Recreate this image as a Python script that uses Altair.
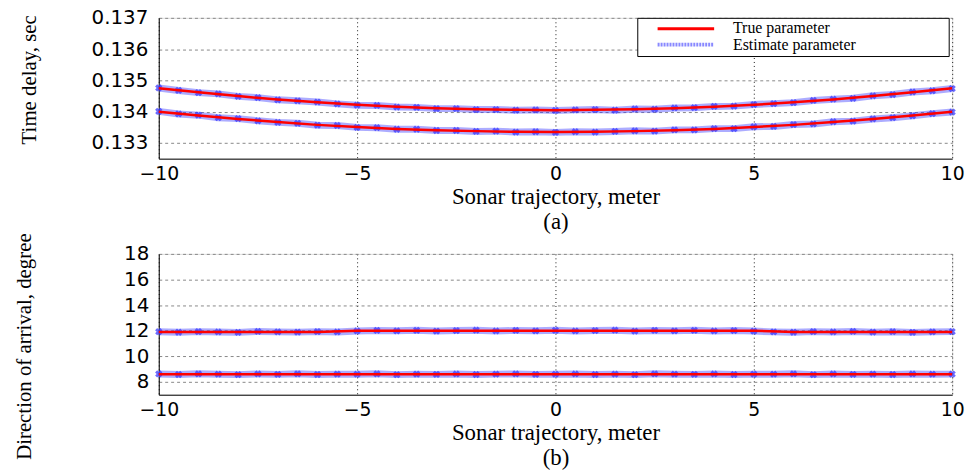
import altair as alt
import pandas as pd

# ---------------- data ----------------
x_true = [-10, -9, -8, -7, -6, -5, -4, -3, -2, -1, 0, 1, 2, 3, 4, 5, 6, 7, 8, 9, 10]
delay_true_1 = [0.13475, 0.13462, 0.13450, 0.13439, 0.13430, 0.13422, 0.13416, 0.13411, 0.13408, 0.13406, 0.13405,
                0.13406, 0.13408, 0.13411, 0.13416, 0.13422, 0.13430, 0.13439, 0.13450, 0.13462, 0.13475]
delay_true_2 = [0.13400, 0.13388, 0.13377, 0.13367, 0.13358, 0.13351, 0.13345, 0.13341, 0.13338, 0.13336, 0.13335,
                0.13336, 0.13338, 0.13341, 0.13345, 0.13351, 0.13358, 0.13367, 0.13377, 0.13388, 0.13400]
doa_true_1 = [11.9, 11.9, 11.9, 11.9, 11.9, 12.0, 12.0, 12.0, 12.0, 12.0, 12.0,
              12.0, 12.0, 12.0, 12.0, 12.0, 11.9, 11.9, 11.9, 11.9, 11.9]
doa_true_2 = [8.6] * 21

x_est = [-10, -9.5, -9, -8.5, -8, -7.5, -7, -6.5, -6, -5.5, -5, -4.5, -4, -3.5, -3, -2.5, -2, -1.5, -1, -0.5, 0,
         0.5, 1, 1.5, 2, 2.5, 3, 3.5, 4, 4.5, 5, 5.5, 6, 6.5, 7, 7.5, 8, 8.5, 9, 9.5, 10]
delay_est_1 = [0.13476, 0.13468, 0.13461, 0.13457, 0.13449, 0.13445, 0.13438, 0.13435, 0.13431, 0.13425, 0.13421,
               0.13420, 0.13415, 0.13414, 0.13410, 0.13410, 0.13407, 0.13407, 0.13405, 0.13406, 0.13404,
               0.13406, 0.13407, 0.13405, 0.13409, 0.13408, 0.13412, 0.13413, 0.13417, 0.13418, 0.13423,
               0.13426, 0.13429, 0.13436, 0.13440, 0.13443, 0.13451, 0.13455, 0.13463, 0.13467, 0.13474]
delay_est_2 = [0.13401, 0.13393, 0.13389, 0.13381, 0.13378, 0.13371, 0.13366, 0.13363, 0.13357, 0.13356, 0.13350,
               0.13349, 0.13344, 0.13344, 0.13340, 0.13340, 0.13337, 0.13338, 0.13335, 0.13336, 0.13334,
               0.13336, 0.13335, 0.13337, 0.13339, 0.13338, 0.13342, 0.13342, 0.13346, 0.13346, 0.13352,
               0.13353, 0.13359, 0.13361, 0.13368, 0.13370, 0.13377, 0.13381, 0.13387, 0.13394, 0.13399]
doa_est_1 = [11.92, 11.88, 11.93, 11.90, 11.87, 11.94, 11.91, 11.89, 11.93, 11.90, 11.98,
             12.02, 11.99, 12.03, 11.97, 12.01, 12.04, 11.98, 12.02, 11.99, 12.03,
             11.98, 12.01, 12.04, 11.97, 12.02, 11.99, 12.03, 11.98, 12.01, 11.97,
             11.91, 11.88, 11.93, 11.90, 11.94, 11.89, 11.92, 11.87, 11.91, 11.93]
doa_est_2 = [8.62, 8.58, 8.63, 8.60, 8.57, 8.62, 8.59, 8.63, 8.58, 8.61, 8.60,
             8.63, 8.57, 8.61, 8.59, 8.62, 8.58, 8.61, 8.63, 8.59, 8.60,
             8.62, 8.58, 8.61, 8.57, 8.63, 8.60, 8.59, 8.62, 8.58, 8.61,
             8.60, 8.63, 8.57, 8.62, 8.59, 8.61, 8.58, 8.62, 8.60, 8.61]

x_ticks = [-10, -5, 0, 5, 10]
delay_ticks = [0.133, 0.134, 0.135, 0.136, 0.137]
doa_ticks = [8, 10, 12, 14, 16, 18]
legend_labels = ["True parameter", "Estimate parameter"]

RED = "#ff0000"
BLUE = "#3a3aff"
SERIF = "Liberation Serif"
SANS = "DejaVu Sans"


def frame(xs, ys_list):
    rows = []
    for i, ys in enumerate(ys_list):
        for xv, yv in zip(xs, ys):
            rows.append({"x": xv, "y": yv, "curve": i})
    return pd.DataFrame(rows)


def panel(true_df, est_df, ydom, yticks, yfmt, ytitle, ytitlesize, letter, ypad, ytitlepad, ytitley, with_legend):
    xenc = alt.X("x:Q", scale=alt.Scale(domain=[-10, 10], nice=False),
                 axis=alt.Axis(values=x_ticks, title=["Sonar trajectory, meter", letter], format="d",
                               labelFont=SANS, labelFontSize=19, labelColor="black", labelPadding=6,
                               titleFont=SERIF, titleFontSize=23, titleFontWeight="normal",
                               titleColor="black", titlePadding=2, titleLineHeight=25,
                               ticks=False, domainColor="black",
                               gridColor="black", gridDash=[1, 3], gridOpacity=0.9, labelFlush=False))
    yenc = alt.Y("y:Q", scale=alt.Scale(domain=ydom, nice=False, zero=False),
                 axis=alt.Axis(values=yticks, title=ytitle, format=yfmt,
                               labelFont=SANS, labelFontSize=20, labelColor="black", labelPadding=ypad,
                               titleFont=SERIF, titleFontSize=ytitlesize, titleFontWeight="normal",
                               titleColor="black", titlePadding=ytitlepad, titleY=ytitley,
                               ticks=False, domainColor="black",
                               gridColor="#888888", gridDash=[3, 3], labelFlush=False))
    est_line = alt.Chart(est_df).mark_line(color=BLUE, strokeWidth=7, opacity=0.42).encode(
        x=xenc, y=yenc, detail="curve:N")
    est_pts = alt.Chart(est_df).mark_point(shape="cross", angle=45, filled=True, size=55,
                                           color=BLUE, opacity=0.75).encode(x=xenc, y=yenc)
    true_line = alt.Chart(true_df).mark_line(color=RED, strokeWidth=2.5).encode(
        x=xenc, y=yenc, detail="curve:N")
    layers = [est_line, est_pts, true_line]
    if with_legend:
        box = alt.Chart(pd.DataFrame({"k": [0]})).mark_rect(fill="white", stroke="black", strokeWidth=1).encode(
            x=alt.value(483), x2=alt.value(797), y=alt.value(0.5), y2=alt.value(39))
        r1 = alt.Chart(pd.DataFrame({"k": [0]})).mark_rule(color=RED, strokeWidth=3).encode(
            x=alt.value(503), x2=alt.value(560), y=alt.value(11))
        r2 = alt.Chart(pd.DataFrame({"k": [0]})).mark_rule(color=BLUE, strokeWidth=4, opacity=0.6,
                                                            strokeDash=[2, 1]).encode(
            x=alt.value(503), x2=alt.value(560), y=alt.value(27))
        t1 = alt.Chart(pd.DataFrame({"t": [legend_labels[0]]})).mark_text(
            font=SERIF, fontSize=16, align="left", baseline="middle", color="black").encode(
            text="t:N", x=alt.value(579), y=alt.value(10))
        t2 = alt.Chart(pd.DataFrame({"t": [legend_labels[1]]})).mark_text(
            font=SERIF, fontSize=16, align="left", baseline="middle", color="black").encode(
            text="t:N", x=alt.value(579), y=alt.value(27))
        layers += [box, r1, r2, t1, t2]
    return alt.layer(*layers).properties(width=800, height=142)


top = panel(frame(x_true, [delay_true_1, delay_true_2]), frame(x_est, [delay_est_1, delay_est_2]),
            [0.1325, 0.137], delay_ticks, ".3f", "Time delay, sec", 21, "(a)", 11, 52, 62, True)
bottom = panel(frame(x_true, [doa_true_1, doa_true_2]), frame(x_est, [doa_est_1, doa_est_2]),
               [7, 18], doa_ticks, "d", "Direction of arrival, degree", 21, "(b)", 10, 90, 93, False)

chart = alt.vconcat(top, bottom, spacing=96, bounds="flush").properties(
    padding={"left": 5, "top": -3, "right": 5, "bottom": 0}
).configure_view(stroke="#444444", strokeWidth=1).configure_axis(
    titleFont=SERIF, labelFont=SANS
).configure(background="white")

chart.save("out.html", embed_options={"renderer": "svg", "actions": False})
